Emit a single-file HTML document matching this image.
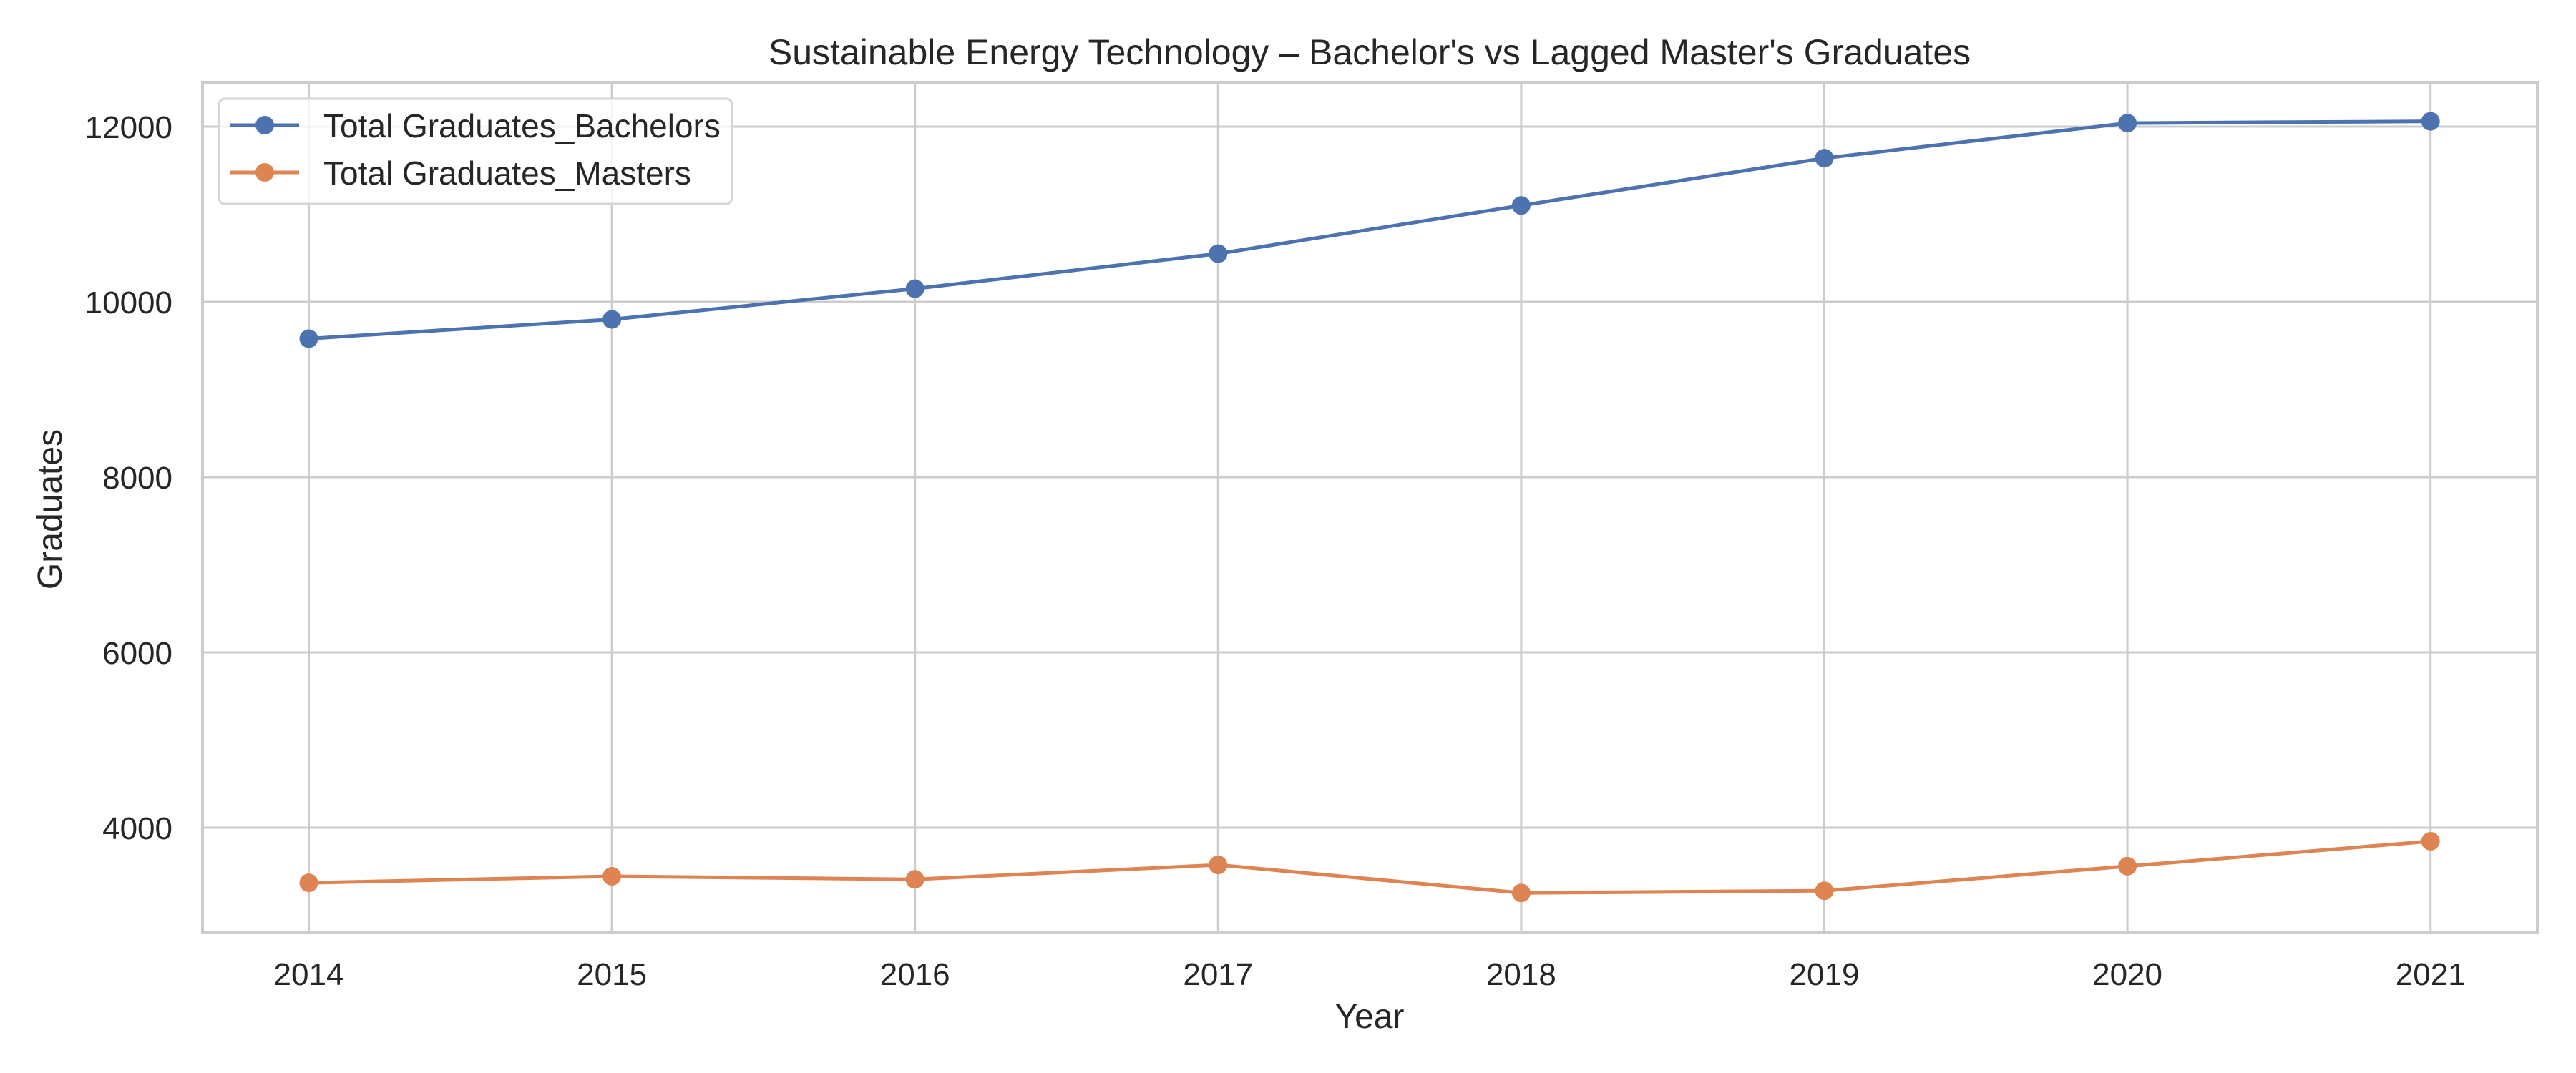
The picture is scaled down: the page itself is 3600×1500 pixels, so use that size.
<!DOCTYPE html>
<html><head><meta charset="utf-8"><style>
html,body{margin:0;padding:0;background:#fff;}
svg{display:block;font-family:"Liberation Sans",Arial,sans-serif;}
</style></head><body>
<svg id="chart" width="3600" height="1500" viewBox="0 0 3600 1500" xmlns="http://www.w3.org/2000/svg">
<rect x="0" y="0" width="3600" height="1500" fill="#fff"/>
<g id="grid"></g>
<g id="series"></g>
<rect x="283" y="115" width="3263" height="1188" fill="none" stroke="#cccccc" stroke-width="4"/>
<g id="ticks" font-size="44" fill="#262626"></g>
<text x="1914" y="90" font-size="50" text-anchor="middle" fill="#262626">Sustainable Energy Technology – Bachelor's vs Lagged Master's Graduates</text>
<text x="1914" y="1437" font-size="48" text-anchor="middle" fill="#262626">Year</text>
<text x="0" y="0" font-size="48" text-anchor="middle" fill="#262626" transform="translate(86,712) rotate(-90)">Graduates</text>
<g>
<rect x="306" y="138" width="717" height="147" rx="8" fill="#fff" fill-opacity="0.8" stroke="#d5d5d5" stroke-width="3"/>
<g>
<line x1="322" y1="175" x2="418" y2="175" stroke="#4c72b0" stroke-width="5"/>
<circle cx="370" cy="175" r="13" fill="#4c72b0"/>
<text x="452" y="192" font-size="46" fill="#262626">Total Graduates_Bachelors</text>
</g>
<g>
<line x1="322" y1="241" x2="418" y2="241" stroke="#dd8452" stroke-width="5"/>
<circle cx="370" cy="241" r="13" fill="#dd8452"/>
<text x="452" y="258" font-size="46" fill="#262626">Total Graduates_Masters</text>
</g>
</g>
</svg>
<script>
const years = [2014, 2015, 2016, 2017, 2018, 2019, 2020, 2021];
const bachelors = [9580, 9800, 10150, 10550, 11100, 11640, 12040, 12060];
const masters = [3370, 3445, 3410, 3575, 3255, 3280, 3560, 3845];
const yTicks = [4000, 6000, 8000, 10000, 12000];

const NS = "http://www.w3.org/2000/svg";
function xScale(yr){ return 431.5 + (yr - 2014) * 423.6; }
function yScale(v){ return 177 + (12000 - v) * 0.1225; }
function mk(tag, attrs, parent){ const e = document.createElementNS(NS, tag); for (const k in attrs) e.setAttribute(k, attrs[k]); parent.appendChild(e); return e; }

const grid = document.getElementById('grid');
const ticks = document.getElementById('ticks');
const series = document.getElementById('series');

years.forEach(yr => {
  const x = xScale(yr);
  const g = mk('line', {x1:x, y1:115, x2:x, y2:1303, stroke:'#cccccc', 'stroke-width':3}, grid);
  
  
  const t = mk('text', {x:x, y:1377, 'text-anchor':'middle'}, ticks);
  t.textContent = yr;
  
  
});
yTicks.forEach(v => {
  const y = yScale(v);
  const g = mk('line', {x1:283, y1:y, x2:3546, y2:y, stroke:'#cccccc', 'stroke-width':3}, grid);
  
  
  const t = mk('text', {x:241, y:y + 16, 'text-anchor':'end'}, ticks);
  t.textContent = v;
  
  
});

function drawSeries(vals, color, name){
  const pts = vals.map((v, i) => xScale(years[i]) + ',' + yScale(v)).join(' ');
  const pl = mk('polyline', {points:pts, fill:'none', stroke:color, 'stroke-width':5, 'stroke-linejoin':'round'}, series);
  
  
  vals.forEach((v, i) => {
    const c = mk('circle', {cx:xScale(years[i]), cy:yScale(v), r:13, fill:color}, series);
    
    
  });
}
drawSeries(bachelors, '#4c72b0', 'bachelors');
drawSeries(masters, '#dd8452', 'masters');
</script>
</body></html>
